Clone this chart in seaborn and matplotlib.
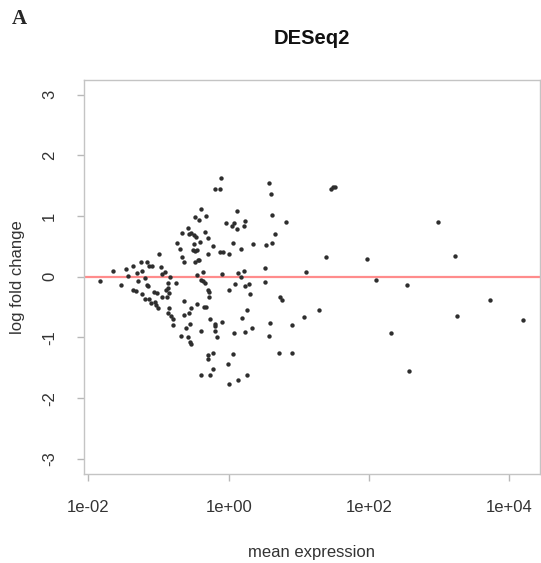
import matplotlib
matplotlib.use("Agg")
import matplotlib.pyplot as plt
import matplotlib.ticker as mticker
import numpy as np
import pandas as pd
import seaborn as sns

# log10 of the mean expression
log10_mean = [
    -1.83, -1.65, -1.53, -1.47, -1.43, -1.36, -1.25, -1.16, -1.31, -1.23,
    -1.14, -1.10, -0.99, -1.19, -1.29, -0.97, -0.95, -0.91, -1.17, -1.15,
    -1.36, -1.32, -1.23, -1.19, -1.13, -1.07, -1.02, -1.11, -1.05, -1.03,
    -1.01, -0.95, -0.88, -0.90, -0.87, -0.86, -0.84, -0.85, -0.85, -0.87,
    -0.82, -0.79, -0.79,
    -0.75, -0.11, -0.20, -0.12, -0.40, -0.48, -0.43, -0.33, 0.12, -0.04,
    0.05, 0.08, 0.12, 0.24, 0.22, -0.58, -0.67, -0.57, -0.53, -0.50,
    -0.47, -0.34, -0.29, -0.73, -0.49, -0.41, -0.69, -0.51, -0.48, -0.45,
    -0.23, -0.67, -0.48, -0.44, -0.42, -0.63, -0.30, -0.13, -0.08, 0.00,
    0.06, 0.18, -0.45, -0.36, -0.39, -0.37, -0.34, -0.09, 0.14, 0.22,
    0.17, -0.30, -0.28, -0.28, 0.00, 0.09, 0.23, -0.64, -0.45, -0.35,
    -0.32, -0.54, -0.56, -0.64, 0.26, -0.26, 0.19, -0.61, -0.55, -0.20,
    -0.19, -0.09, -0.20, -0.40, 0.24, 0.07, -0.68, -0.58, -0.17, -0.55,
    -0.54, -0.23, -0.29, -0.30, 0.06, -0.01, -0.22, -0.39, -0.26, 0.26,
    0.14, 0.01,
    0.57, 0.60, 0.62, 0.82, 0.66, 0.35, 0.53, 0.62, 0.52, 0.52,
    0.29, 0.30, 0.73, 0.76, 0.33, 0.59, 0.57, 0.72, 0.91, 0.90,
    1.08, 1.11, 1.29, 1.39, 1.46, 1.49, 1.52, 1.97, 2.10, 2.32,
    2.55, 2.57, 2.99, 3.23, 3.26, 3.72, 4.20,
]

log_fold_change = [
    -0.07, 0.09, -0.14, 0.13, 0.01, 0.17, 0.25, 0.25, 0.06, 0.10,
    0.17, 0.18, 0.37, -0.02, -0.07, 0.16, 0.04, 0.07, -0.14, -0.15,
    -0.22, -0.24, -0.29, -0.36, -0.36, -0.25, -0.27, -0.44, -0.42, -0.47,
    -0.51, -0.34, -0.34, -0.21, -0.19, -0.10, -0.01, -0.27, -0.52, -0.60,
    -0.64, -0.70, -0.80,
    -0.10, 1.63, 1.44, 1.44, 1.11, 0.99, 0.94, 1.00, 1.09, 0.89,
    0.84, 0.88, 0.79, 0.91, 0.84, 0.80, 0.72, 0.71, 0.72, 0.69,
    0.66, 0.73, 0.63, 0.56, 0.54, 0.57, 0.45, 0.44, 0.43, 0.44,
    0.51, 0.33, 0.25, 0.27, 0.28, 0.24, 0.37, 0.40, 0.40, 0.37,
    0.55, 0.45, 0.03, 0.07, -0.05, -0.07, -0.10, 0.04, 0.06, 0.09,
    -0.01, -0.22, -0.25, -0.33, -0.21, -0.12, -0.16, -0.40, -0.45, -0.49,
    -0.49, -0.52, -0.59, -0.63, -0.54, -0.69, -0.68, -0.84, -0.78, -0.77,
    -0.81, -0.75, -0.90, -0.89, -0.91, -0.92, -0.98, -1.00, -1.00, -1.07,
    -1.11, -1.26, -1.29, -1.36, -1.28, -1.44, -1.52, -1.61, -1.61, -1.62,
    -1.70, -1.77,
    1.54, 1.37, 1.02, 0.90, 0.70, 0.54, 0.53, 0.55, 0.15, -0.08,
    -0.12, -0.28, -0.33, -0.39, -0.84, -0.76, -0.97, -1.25, -1.25, -0.79,
    -0.66, 0.07, -0.54, 0.33, 1.45, 1.47, 1.48, 0.29, -0.06, -0.93,
    -0.13, -1.55, 0.90, 0.34, -0.64, -0.38, -0.71,
]

x_ticks = [1e-2, 1e0, 1e2, 1e4]
x_tick_labels = ["1e-02", "1e+00", "1e+02", "1e+04"]
y_ticks = [-3, -2, -1, 0, 1, 2, 3]

df = pd.DataFrame({
    "mean": np.power(10.0, log10_mean),
    "lfc": log_fold_change,
})

sns.set_theme(style="white")
plt.rcParams["font.family"] = ["Liberation Sans", "DejaVu Sans"]

fig = plt.figure(figsize=(5.41, 5.63), dpi=100)
ax = fig.add_axes([83.5 / 541, (563 - 473.5) / 563, (540 - 83.5) / 541, 393.5 / 563])

ax.axhline(0, color="#ff0000", alpha=0.45, linewidth=1.6, zorder=1)
sns.scatterplot(data=df, x="mean", y="lfc", ax=ax, s=10, color="#2e2e2e",
                linewidth=0, zorder=2)

ax.set_xscale("log")
ax.set_xlim(10 ** -2.07, 10 ** 4.44)
ax.set_ylim(-3.24, 3.24)
ax.xaxis.set_minor_locator(mticker.NullLocator())
ax.set_xticks(x_ticks)
ax.set_xticklabels(x_tick_labels)
ax.set_yticks(y_ticks)
ax.set_yticklabels([str(v) for v in y_ticks])
for lab in ax.get_yticklabels():
    lab.set_rotation(90)
    lab.set_va("center")
    lab.set_ha("right")

for sp in ax.spines.values():
    sp.set_color("#c4c4c4")
    sp.set_linewidth(1.0)

ax.tick_params(axis="both", which="major", bottom=True, left=True,
               direction="out", length=5, width=1, color="#b8b8b8",
               labelsize=12, labelcolor="#333333", pad=14)

ax.set_xlabel("mean expression", fontsize=12, color="#333333")
ax.set_ylabel("log fold change", fontsize=12, color="#333333")
ax.xaxis.set_label_coords(0.5, -0.182)
ax.yaxis.set_label_coords(-0.128, 0.5)

fig.text(312 / 541, 1 - 38 / 563, "DESeq2", fontsize=14.5, fontweight="bold",
         ha="center", va="center", color="#111111")

fig.text(12 / 541, 1 - 24 / 563, "A", fontsize=15, fontweight="bold",
         family=["Liberation Serif", "DejaVu Serif"], ha="left", va="baseline")

fig.savefig("out.png", dpi=100, facecolor="white")
